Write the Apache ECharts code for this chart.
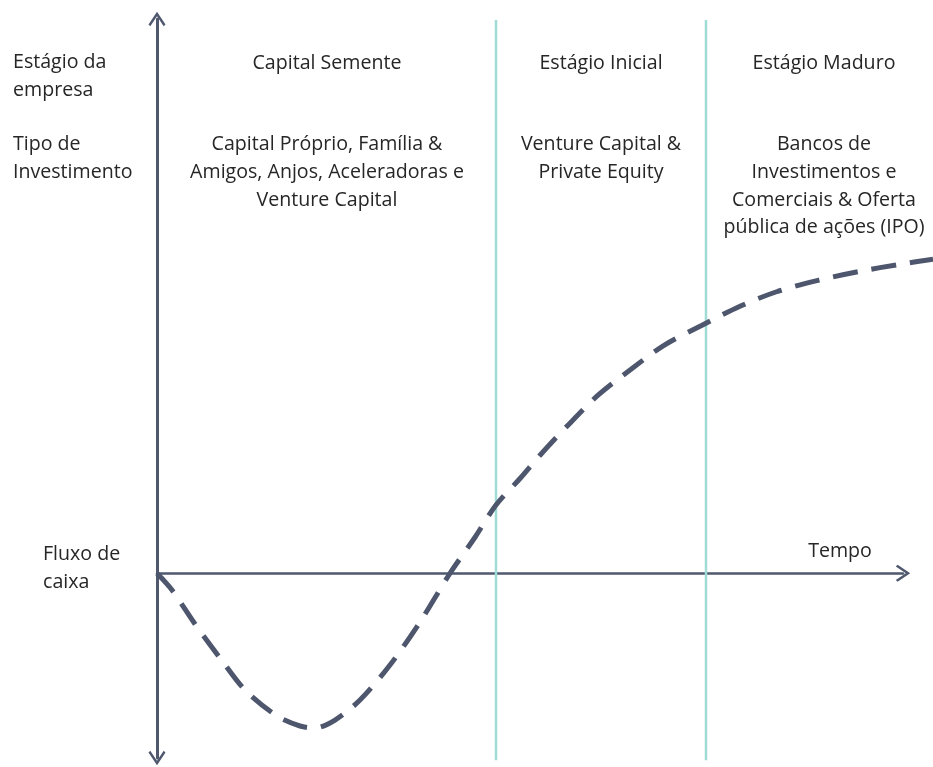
<!DOCTYPE html>
<html>
<head>
<meta charset="utf-8">
<script src="https://cdn.jsdelivr.net/npm/echarts@6/dist/echarts.min.js"></script>
<style>
  html, body { margin: 0; padding: 0; background: #ffffff; }
  #chart { width: 933px; height: 767px; }
</style>
</head>
<body>
<div id="chart"></div>
<script>
// Cash-flow curve over the life of a company (time vs. cash flow, arbitrary units)
const tempo = [0, 2.01, 5.09, 8.45, 11.8, 16.09, 19.17, 21.18, 23.86, 27.21, 31.23, 35.25,
  39.28, 42.63, 45.44, 48.66, 51.34, 55.09, 59.12, 63.54, 67.96, 73.06, 78.15, 83.24, 88.61, 94.24, 99.6, 104.02];
const fluxoDeCaixa = [0, -2.27, -6.87, -11.47, -15.8, -19.32, -20.67, -20.94, -19.86, -17.16, -12.42, -6.61,
  0, 4.87, 9.24, 12.82, 15.97, 20.03, 24.09, 27.6, 30.85, 33.56, 36.13, 38.16, 39.64, 40.86, 41.81, 42.49];

// Stage boundaries on the time axis
const limitesEstagio = [45.44, 73.59];
const alturaLimites = [74.86, -25.3];

// Axis extents: the visible axes end at tempo = 100, the plot itself runs to the right edge
const tempoMaxEixo = 100;
const tempoMaxPlot = 104.02;
const fluxoMin = -25;
const fluxoMax = 75;

// Column texts
const estagios = ['Capital Semente', 'Estágio Inicial', 'Estágio Maduro'];
const investimentos = [
  'Capital Próprio, Família &\nAmigos, Anjos, Aceleradoras e\nVenture Capital',
  'Venture Capital &\nPrivate Equity',
  'Bancos de\nInvestimentos e\nComerciais & Oferta\npública de ações (IPO)'
];
const rotulosLinha = ['Estágio da\nempresa', 'Tipo de\nInvestimento'];
const rotuloEixoY = 'Fluxo de\ncaixa';
const rotuloEixoX = 'Tempo';

const axisColor = '#4f586d';
const curveColor = '#4d566c';
const stageColor = '#9fdcd6';
const textColor = '#262626';
const FONT = '19.6px "Open Sans", Lato, sans-serif';
const LH = 27.6;

// open chevron used as the arrow head of both axes
const chevron = 'path://M0,12.6 L8.5,0 L17,12.6 L15.2,14.4 L8.5,4.4 L1.8,14.4 Z';

const chart = echarts.init(document.getElementById('chart'), null, { renderer: 'canvas' });

const stageSeries = limitesEstagio.map(function (x) {
  return {
    type: 'line',
    xAxisIndex: 1, yAxisIndex: 1,
    data: [[x, alturaLimites[0]], [x, alturaLimites[1]]],
    symbol: 'none',
    clip: false,
    silent: true,
    lineStyle: { color: stageColor, width: 2.5 },
    z: 1
  };
});

const columnCenters = [327, 601, 824];
const graphics = [];
rotulosLinha.forEach(function (t, i) {
  graphics.push({
    type: 'text', left: 13, top: i === 0 ? 49 : 131,
    style: { text: t, font: FONT, fill: textColor, lineHeight: LH }
  });
});
estagios.forEach(function (t, i) {
  graphics.push({
    type: 'text', x: columnCenters[i], y: 63,
    style: { text: t, font: FONT, fill: textColor, align: 'center', verticalAlign: 'middle' }
  });
});
investimentos.forEach(function (t, i) {
  graphics.push({
    type: 'text', x: columnCenters[i], y: 131,
    style: { text: t, font: FONT, fill: textColor, align: 'center', verticalAlign: 'top', lineHeight: LH }
  });
});
graphics.push({
  type: 'text', left: 43, top: 541,
  style: { text: rotuloEixoY, font: FONT, fill: textColor, lineHeight: LH }
});
graphics.push({
  type: 'text', x: 840, y: 551,
  style: { text: rotuloEixoX, font: FONT, fill: textColor, align: 'center', verticalAlign: 'middle' }
});

const hidden = {
  axisLine: { show: false }, axisTick: { show: false },
  axisLabel: { show: false }, splitLine: { show: false }
};

chart.setOption({
  animation: false,
  backgroundColor: '#ffffff',
  grid: [
    { left: 157, right: 30, top: 19, bottom: 9, containLabel: false },
    { left: 157, right: 0, top: 19, bottom: 9, containLabel: false }
  ],
  xAxis: [{
    gridIndex: 0, type: 'value', min: 0, max: tempoMaxEixo,
    axisLine: {
      show: true, onZero: true,
      symbol: ['none', chevron], symbolSize: [17, 15],
      lineStyle: { color: axisColor, width: 2.5 }
    },
    axisTick: { show: false }, axisLabel: { show: false }, splitLine: { show: false }
  }, Object.assign({ gridIndex: 1, type: 'value', min: 0, max: tempoMaxPlot }, hidden)],
  yAxis: [{
    gridIndex: 0, type: 'value', min: fluxoMin, max: fluxoMax,
    axisLine: {
      show: true, onZero: false,
      symbol: [chevron, chevron], symbolSize: [17, 15],
      lineStyle: { color: axisColor, width: 3 }
    },
    axisTick: { show: false }, axisLabel: { show: false }, splitLine: { show: false }
  }, Object.assign({ gridIndex: 1, type: 'value', min: fluxoMin, max: fluxoMax }, hidden)],
  series: stageSeries.concat([{
    type: 'line',
    xAxisIndex: 1, yAxisIndex: 1,
    data: tempo.map(function (x, i) { return [x, fluxoDeCaixa[i]]; }),
    smooth: 0.3,
    symbol: 'none',
    clip: false,
    lineStyle: { color: curveColor, width: 5, type: [25, 14], cap: 'butt' },
    z: 3
  }]),
  graphic: graphics
});
</script>
</body>
</html>
